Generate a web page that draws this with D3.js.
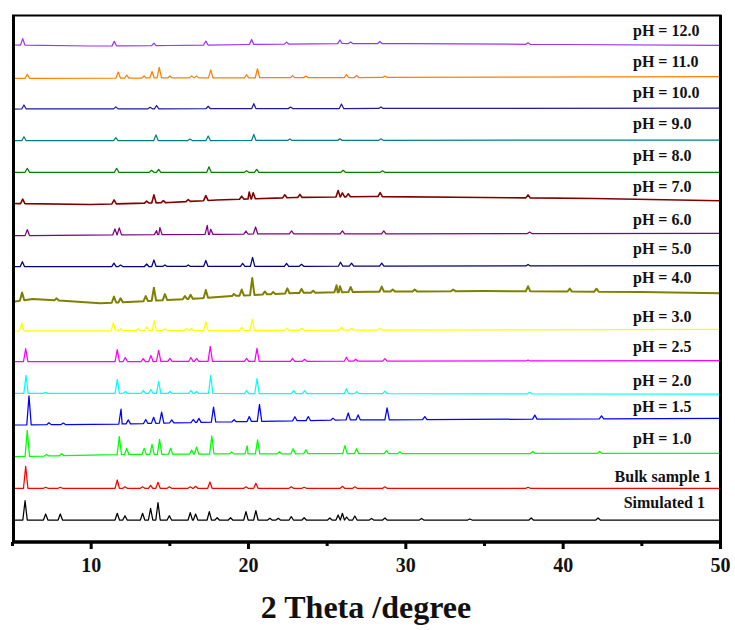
<!DOCTYPE html>
<html>
<head>
<meta charset="utf-8">
<script src="https://cdn.jsdelivr.net/npm/d3@7"></script>
<style>
  body { margin: 0; background: #fff; }
  text { font-family: "Liberation Serif", "Times New Roman", serif; font-weight: bold; }
</style>
</head>
<body>
<div id="chart"></div>
<script>
// XRD patterns, stacked; intensities in arbitrary units (offset per pattern)
const labels = ["Simulated 1", "Bulk sample 1", "pH = 1.0", "pH = 1.5", "pH = 2.0", "pH = 2.5",
  "pH = 3.0", "pH = 4.0", "pH = 5.0", "pH = 6.0", "pH = 7.0", "pH = 8.0", "pH = 9.0",
  "pH = 10.0", "pH = 11.0", "pH = 12.0"];

// background level of every pattern: [2theta, intensity]
const backgrounds = [
  [[5, 22], [50, 22]],
  [[5, 53.7], [50, 53.7]],
  [[5, 85.3], [12, 87.5], [20, 88.2], [50, 88.7]],
  [[5, 117], [12, 118], [18, 120], [26, 122], [50, 123.7]],
  [[5, 148.7], [50, 148]],
  [[5, 180.3], [50, 181.3]],
  [[5, 211], [50, 212.7]],
  [[5, 240], [6.3, 243], [8, 241.5], [10.6, 238.7], [12.7, 240.3], [17, 243.7], [19, 246], [23, 249], [27.7, 250.3], [35, 251], [45, 250], [50, 248.7]],
  [[5, 275.3], [50, 276.3]],
  [[5, 306.3], [20, 308], [50, 308.7]],
  [[5, 338.5], [10, 337.5], [15, 339.5], [18, 342], [20, 343], [23, 344.5], [28, 345.5], [35, 344.5], [42, 343.5], [50, 341.3]],
  [[5, 369.7], [50, 369.7]],
  [[5, 401.3], [50, 402]],
  [[5, 433], [50, 434]],
  [[5, 463.7], [50, 465.3]],
  [[5, 497], [10, 496], [15, 496.5], [20, 497.5], [26, 498.5], [30, 498.5], [40, 497.5], [50, 496.7]]
];

// peaks above background: [2theta, height]
const peaks = [
  [[5.83, 19.3], [7.14, 6], [8.07, 6], [11.69, 6.7], [12.18, 4.3], [13.3, 6.7], [13.81, 11.7], [14.28, 17.3],
   [15.0, 4.3], [16.33, 7.3], [16.67, 6], [17.54, 8.3], [18.04, 2.3], [18.89, 2.3], [19.87, 8.3], [20.5, 9.3],
   [21.39, 1.7], [21.92, 1.7], [22.75, 3.3], [23.57, 2.3], [25.2, 2], [25.73, 5], [26.0, 6.7], [26.27, 3],
   [26.79, 4], [27.85, 1.5], [28.7, 2], [31.03, 1.5], [34.1, 1], [38.0, 2], [42.25, 2]],
  [[5.87, 22], [7.14, 1], [8.07, 1], [11.69, 8.3], [12.18, 1.5], [13.3, 1.5], [13.81, 3], [14.28, 6],
   [15.0, 1.5], [16.33, 1.5], [16.67, 2], [17.58, 6.3], [19.87, 1.5], [20.5, 5], [22.75, 1.5], [23.57, 1],
   [26.0, 2], [26.79, 1.5], [28.7, 1.5], [37.8, 1]],
  [[5.97, 26], [7.2, 1.5], [8.16, 2], [11.82, 18], [12.29, 6], [13.4, 6], [13.9, 10], [14.38, 15], [15.08, 6],
   [16.42, 4], [16.73, 7], [17.7, 18], [18.96, 2], [19.95, 8], [20.61, 14], [22.0, 2], [22.87, 5], [23.68, 4],
   [26.16, 8], [26.9, 5], [28.8, 3], [29.65, 2], [38.1, 2], [42.35, 2]],
  [[6.08, 29], [7.35, 2], [8.26, 1.5], [11.93, 15], [12.39, 4], [13.5, 4], [14.0, 6], [14.51, 11], [15.15, 3],
   [16.52, 3], [16.88, 4], [17.81, 15], [19.12, 2], [20.08, 5], [20.73, 17], [22.98, 4], [23.83, 4], [25.4, 2],
   [26.37, 7], [27.0, 5], [28.84, 12], [31.24, 3], [38.23, 4], [42.47, 3]],
  [[5.89, 18], [7.14, 1], [11.69, 14], [12.21, 2], [13.34, 3], [13.83, 4], [14.32, 12], [15.04, 2], [16.37, 3],
   [16.73, 2], [17.63, 18], [19.91, 3], [20.57, 15], [22.9, 3], [23.6, 3], [26.26, 5], [26.9, 2], [28.7, 2.5],
   [37.9, 1.5]],
  [[5.87, 13], [11.69, 12], [12.2, 4], [13.34, 3], [13.83, 6], [14.32, 11], [15.04, 3], [16.37, 4], [16.73, 3],
   [17.6, 15], [19.91, 3], [20.57, 13], [22.83, 3], [23.6, 2], [26.26, 4], [26.85, 2], [28.7, 2.5], [37.8, 1]],
  [[5.62, 8], [11.44, 8], [11.9, 2], [13.03, 2], [13.56, 4], [14.04, 10], [14.72, 2], [16.1, 2], [16.4, 2],
   [17.32, 9], [19.6, 3], [20.27, 11], [22.45, 2], [23.4, 2], [25.95, 3], [26.58, 2], [28.4, 2]],
  [[5.64, 8], [7.84, 2], [11.48, 6], [11.9, 4], [13.5, 5], [14.02, 13], [14.72, 6], [15.99, 3], [16.35, 4],
   [17.32, 8], [19.1, 2], [19.6, 6], [20.27, 17], [21.07, 3], [21.6, 2], [22.5, 5], [23.4, 4], [24.14, 2],
   [25.63, 7], [25.84, 6], [26.52, 5], [28.5, 5], [29.2, 2], [30.6, 2], [33.04, 1.5], [37.8, 5], [40.45, 3],
   [42.15, 3]],
  [[5.66, 5], [11.48, 3.5], [11.9, 1.5], [13.56, 2.5], [14.02, 6.5], [14.72, 1.5], [16.2, 1.5], [17.32, 6],
   [19.66, 3], [20.29, 9], [22.45, 3], [23.4, 2], [25.88, 4], [26.58, 3], [28.5, 3], [37.8, 1.5]],
  [[5.97, 6], [11.54, 6], [11.82, 7], [14.19, 4], [14.4, 7], [17.41, 9], [17.63, 5], [19.87, 3], [20.48, 7],
   [22.77, 3], [26.0, 3], [28.63, 3], [37.9, 1.5]],
  [[5.68, 4.5], [11.49, 4], [13.56, 2], [14.02, 8], [14.62, 2], [16.2, 2], [17.32, 5], [19.6, 3], [20.08, 7],
   [20.33, 6], [22.34, 3], [23.3, 3], [25.73, 6.5], [26.0, 4], [26.37, 3], [28.4, 4], [37.8, 3]],
  [[5.97, 4], [11.65, 4], [13.87, 2], [14.32, 3], [17.52, 5.5], [19.91, 1.5], [20.55, 3], [26.05, 2], [28.55, 1.5]],
  [[5.76, 4], [11.6, 3], [14.15, 5.7], [16.31, 1.5], [17.47, 4.5], [20.37, 6], [22.66, 1.5], [25.84, 1.5],
   [28.45, 1.5]],
  [[5.76, 4], [11.6, 2], [13.78, 1.5], [14.19, 3.3], [17.47, 2.5], [20.37, 5], [22.7, 1.5], [25.94, 4.5],
   [28.45, 1.5]],
  [[5.97, 4], [11.75, 6], [12.29, 3], [13.4, 2], [13.9, 6.5], [14.36, 10.5], [15.04, 2], [16.42, 2], [16.73, 2],
   [17.63, 8], [19.91, 3], [20.6, 9], [22.83, 2], [23.68, 1.5], [26.26, 3], [26.9, 2], [28.7, 1.5]],
  [[5.68, 6.5], [11.5, 4.5], [14.02, 2.5], [17.32, 4], [20.23, 5], [22.45, 2], [25.84, 3.5], [26.52, 1.5],
   [28.38, 2], [37.8, 1.5]]
];

const majorTicks = [10, 20, 30, 40, 50];
const minorTicks = [5, 15, 25, 35, 45];

// look
const colors = ["#000000", "#ff0000", "#00ff00", "#0000ff", "#00ffff", "#ff00ff", "#ffff00", "#808000",
  "#000080", "#800080", "#800000", "#008000", "#008080", "#1c1c9c", "#ff8000", "#9933ff"];
const labelLift = [12, 6.6, 9.3, 6.3, 8.3, 8.7, 7.6, 10.3, 11.7, 8.3, 9, 11.3, 11, 10, 9.7, 9];
const halfWidth = 0.14;

const W = 735, H = 630;
const svg = d3.select("#chart").append("svg").attr("width", W).attr("height", H);

const x = d3.scaleLinear().domain([5, 50]).range([12, 720]);
const y = d3.scaleLinear().domain([0, 527]).range([542, 15]);

const line = d3.line().x(d => x(d[0])).y(d => y(d[1]));

labels.forEach((name, i) => {
  const bg = d3.scaleLinear()
    .domain(backgrounds[i].map(d => d[0]))
    .range(backgrounds[i].map(d => d[1]));
  const pts = backgrounds[i].map(d => [d[0], d[1]]);
  peaks[i].forEach(p => {
    pts.push([p[0] - halfWidth, bg(p[0] - halfWidth)]);
    pts.push([p[0], bg(p[0]) + p[1]]);
    pts.push([p[0] + halfWidth, bg(p[0] + halfWidth)]);
  });
  pts.sort((a, b) => a[0] - b[0]);

  svg.append("path")
    .datum(pts)
    .attr("fill", "none")
    .attr("stroke", colors[i])
    .attr("stroke-width", (name === "pH = 4.0") ? 2 : (name === "pH = 7.0" ? 1.6 : 1.25))
    .attr("stroke-linejoin", "round")
    .attr("d", line);

  const endVal = backgrounds[i][backgrounds[i].length - 1][1];
  const t = svg.append("text")
    .attr("y", y(endVal) - labelLift[i])
    .attr("font-size", 16)
    .attr("fill", "#111")
    .text(name);
  if (name.startsWith("pH")) {
    t.attr("x", 633).attr("text-anchor", "start");
  } else if (name.startsWith("Bulk")) {
    t.attr("x", 711.5).attr("text-anchor", "end");
  } else {
    t.attr("x", 705).attr("text-anchor", "end");
  }
});

// frame
svg.append("line").attr("x1", 12).attr("x2", 721.5).attr("y1", 15.5).attr("y2", 15.5)
  .attr("stroke", "#000").attr("stroke-width", 2);
svg.append("line").attr("x1", 720.5).attr("x2", 720.5).attr("y1", 15).attr("y2", 543)
  .attr("stroke", "#000").attr("stroke-width", 3);
svg.append("line").attr("x1", 13.5).attr("x2", 13.5).attr("y1", 15).attr("y2", 543)
  .attr("stroke", "#000").attr("stroke-width", 3);

// x axis
const gx = svg.append("g").attr("transform", "translate(0,542)");
gx.call(d3.axisBottom(x).tickValues(minorTicks).tickSize(4).tickFormat(""));
gx.selectAll(".tick line").attr("stroke-width", 3);
const gx2 = svg.append("g").attr("transform", "translate(0,542)");
gx2.call(d3.axisBottom(x).tickValues(majorTicks).tickSize(7).tickPadding(9).tickFormat(d3.format("d")));
gx2.selectAll(".tick line").attr("stroke-width", 3);
gx2.selectAll(".tick text")
  .attr("font-size", 20)
  .attr("font-family", "'Liberation Serif', 'Times New Roman', serif")
  .attr("font-weight", "bold")
  .attr("fill", "#111");
svg.selectAll(".domain").attr("stroke-width", 3).attr("d", "M12,0H722");

svg.append("text")
  .attr("x", 366)
  .attr("y", 618)
  .attr("text-anchor", "middle")
  .attr("font-size", 32)
  .attr("fill", "#111")
  .text("2 Theta /degree");
</script>
</body>
</html>
